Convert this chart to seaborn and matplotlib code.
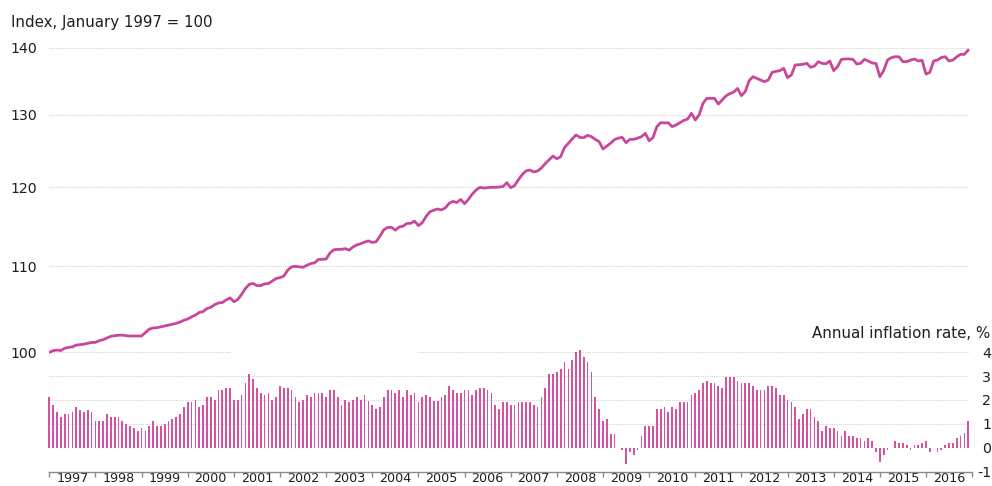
import numpy as np
import pandas as pd
import matplotlib
matplotlib.use('Agg')
import matplotlib.pyplot as plt
import seaborn as sns
from matplotlib.ticker import FixedLocator, NullLocator

# ---------------- data ----------------
years = [str(y) for y in range(1997, 2017)]

index_values = [
    100.0, 100.18, 100.25, 100.2, 100.45, 100.55, 100.6, 100.8, 100.85, 100.9, 101.0, 101.1,
    101.1, 101.3, 101.4, 101.6, 101.78, 101.85, 101.9, 101.92, 101.85, 101.82, 101.82, 101.82,
    101.82, 102.2, 102.6, 102.72, 102.76, 102.85, 102.95, 103.05, 103.14, 103.25, 103.4, 103.6,
    103.75, 104.0, 104.2, 104.5, 104.6, 104.95, 105.1, 105.4, 105.6, 105.65, 105.95, 106.2,
    105.75, 106.0, 106.6, 107.3, 107.8, 107.9, 107.65, 107.65, 107.85, 107.9, 108.2, 108.5,
    108.6, 108.8, 109.5, 109.9, 109.97, 109.9, 109.85, 110.1, 110.3, 110.4, 110.8, 110.82,
    110.85, 111.6, 112.0, 112.05, 112.05, 112.13, 111.95, 112.35, 112.6, 112.75, 112.95, 113.1,
    112.9, 113.0, 113.7, 114.5, 114.8, 114.8, 114.45, 114.85, 114.95, 115.3, 115.32, 115.6,
    115.02, 115.4, 116.2, 116.8, 117.0, 117.16, 117.04, 117.3, 117.9, 118.15, 118.0, 118.4,
    117.85, 118.4, 119.1, 119.65, 120.0, 119.9, 119.95, 120.0, 120.0, 120.04, 120.1, 120.62,
    119.95, 120.22, 121.0, 121.7, 122.2, 122.31, 122.05, 122.18, 122.6, 123.2, 123.7, 124.22,
    123.85, 124.13, 125.4, 125.97, 126.6, 127.14, 126.8, 126.76, 127.09, 126.9, 126.53, 126.2,
    125.19, 125.6, 126.0, 126.5, 126.7, 126.81, 126.06, 126.53, 126.53, 126.7, 126.9, 127.37,
    126.34, 126.76, 128.3, 128.88, 128.85, 128.85, 128.32, 128.55, 128.88, 129.2, 129.4, 130.22,
    129.26, 129.98, 131.67, 132.39, 132.39, 132.39, 131.57, 132.15, 132.75, 133.1, 133.3, 133.85,
    132.79, 133.37, 135.0, 135.6, 135.35, 135.1, 134.85, 135.11, 136.26, 136.4, 136.51, 136.86,
    135.46, 135.85, 137.37, 137.4, 137.47, 137.62, 137.01, 137.2, 137.87, 137.6, 137.56, 137.97,
    136.51, 137.11, 138.2, 138.28, 138.28, 138.23, 137.51, 137.62, 138.23, 137.97, 137.66, 137.6,
    135.6, 136.51, 138.12, 138.48, 138.63, 138.6, 137.87, 137.87, 138.1, 138.28, 137.97, 138.07,
    136.0, 136.26, 137.97, 138.12, 138.5, 138.63, 137.97, 138.12, 138.6, 138.99, 138.99, 139.66,
]

inflation = [
    2.11, 1.79, 1.51, 1.30, 1.40, 1.40, 1.51, 1.69, 1.59, 1.51, 1.59, 1.51,
    1.12, 1.12, 1.12, 1.40, 1.30, 1.30, 1.30, 1.12, 0.99, 0.91, 0.81, 0.70,
    0.81, 0.70, 0.91, 1.12, 0.91, 0.91, 0.99, 1.12, 1.20, 1.30, 1.41, 1.69,
    1.90, 1.90, 1.99, 1.69, 1.80, 2.11, 2.11, 1.99, 2.41, 2.41, 2.50, 2.50,
    1.99, 1.99, 2.21, 2.70, 3.10, 2.88, 2.50, 2.31, 2.21, 2.31, 1.99, 2.11,
    2.60, 2.50, 2.50, 2.41, 2.11, 1.90, 1.99, 2.21, 2.11, 2.31, 2.31, 2.31,
    2.11, 2.41, 2.41, 2.11, 1.80, 1.99, 1.90, 1.99, 2.11, 1.99, 2.21, 1.97,
    1.79, 1.61, 1.69, 2.11, 2.41, 2.41, 2.29, 2.41, 2.11, 2.41, 2.21, 2.29,
    1.90, 2.11, 2.21, 2.11, 1.97, 1.97, 2.11, 2.21, 2.60, 2.41, 2.29, 2.29,
    2.41, 2.41, 2.21, 2.41, 2.50, 2.50, 2.41, 2.29, 1.80, 1.61, 1.90, 1.90,
    1.80, 1.80, 1.90, 1.90, 1.90, 1.90, 1.80, 1.69, 2.11, 2.50, 3.10, 3.10,
    3.19, 3.29, 3.59, 3.29, 3.69, 4.00, 4.10, 3.80, 3.59, 3.19, 2.11, 1.61,
    1.12, 1.20, 0.59, 0.59, 0.0, -0.10, -0.70, -0.20, -0.31, -0.10, 0.50, 0.90,
    0.90, 0.90, 1.61, 1.61, 1.69, 1.51, 1.69, 1.61, 1.90, 1.90, 1.90, 2.21,
    2.29, 2.41, 2.70, 2.80, 2.70, 2.70, 2.60, 2.50, 2.98, 2.98, 2.98, 2.80,
    2.70, 2.70, 2.70, 2.60, 2.41, 2.41, 2.41, 2.60, 2.60, 2.50, 2.21, 2.21,
    1.99, 1.90, 1.69, 1.20, 1.40, 1.61, 1.61, 1.30, 1.12, 0.70, 0.90, 0.81,
    0.81, 0.70, 0.50, 0.70, 0.50, 0.50, 0.39, 0.39, 0.29, 0.39, 0.29, -0.20,
    -0.60, -0.31, -0.10, 0.0, 0.29, 0.20, 0.20, 0.10, -0.10, 0.10, 0.10, 0.20,
    0.29, -0.20, 0.0, -0.20, -0.10, 0.10, 0.20, 0.20, 0.39, 0.50, 0.60, 1.12,
]

left_ticks = [100, 110, 120, 130, 140]
right_ticks = [-1, 0, 1, 2, 3, 4]

# ---------------- style ----------------
sns.set_style('white')
plt.rcParams['font.family'] = ['DejaVu Sans']

LINE = '#c8479b'
BAR = '#d5529f'
GRID = '#d4d4d4'
TEXT = '#1e1e1e'
AXIS = '#8a8a8a'

months = np.arange(len(index_values))
df = pd.DataFrame({'month': months, 'index': index_values, 'inflation': inflation})

fig = plt.figure(figsize=(9.92, 4.86), dpi=100)
FW, FH = 992.0, 486.0
x0_px, x1_px = 49.3, 49.3 + 240 * 3.845
ybot_px, ytop_px = 471.5, 40.0
ax = fig.add_axes([x0_px / FW, 1 - ybot_px / FH, (x1_px - x0_px) / FW, (ybot_px - ytop_px) / FH])

sns.lineplot(data=df, x='month', y='index', ax=ax, color=LINE, linewidth=2.0, zorder=5)
ax.set_yscale('log')
ax.set_ylim(87.66, 141.21)
ax.set_xlim(0, 240)

ax2 = ax.twinx()
sns.barplot(data=df, x='month', y='inflation', ax=ax2, native_scale=True, width=0.45,
            color=BAR, saturation=1, errorbar=None, linewidth=0, clip_on=False)
ax2.set_ylim(-1, 17.1)
ax2.set_xlim(0, 240)

# gridlines
span = x1_px - x0_px
gx = (968 - x0_px) / span
for v in left_ticks[1:]:
    ax.axhline(v, xmin=0, xmax=gx, color=GRID, lw=0.8, ls=(0, (1, 1)), zorder=0)
ax.axhline(100, xmin=0, xmax=(230 - x0_px) / span, color=GRID, lw=0.8, ls=(0, (1, 1)), zorder=0)
for v in [1, 2, 3]:
    ax2.axhline(v, xmin=0, xmax=gx, color=GRID, lw=0.8, ls=(0, (1, 1)), zorder=0)
ax2.axhline(4, xmin=(418 - x0_px) / span, xmax=gx, color=GRID, lw=0.8, ls=(0, (1, 1)), zorder=0)

# x axis
ax.set_xticks(np.arange(0, 241, 12))
ax.set_xticklabels([])
ax.set_xticks(np.arange(6, 240, 12), minor=True)
ax.set_xticklabels(years, minor=True)
ax.tick_params(axis='x', which='major', length=3.6, width=1, color=AXIS, direction='out', bottom=True)
ax.tick_params(axis='x', which='minor', length=0, pad=0.6, labelsize=9.2, labelcolor=TEXT, bottom=True)

# left y axis
ax.yaxis.set_major_locator(FixedLocator(left_ticks))
ax.yaxis.set_minor_locator(NullLocator())
ax.set_yticklabels([str(v) for v in left_ticks])
ax.tick_params(axis='y', which='both', length=0, pad=8.6, labelsize=10.2, labelcolor=TEXT)

# right y axis
ax2.set_yticks(right_ticks)
ax2.set_yticklabels([str(v) for v in right_ticks])
ax2.tick_params(axis='y', length=0, pad=13.6, labelsize=10.2, labelcolor=TEXT)
for t in ax2.get_yticklabels():
    t.set_horizontalalignment('right')

for a in (ax, ax2):
    a.set_xlabel('')
    a.set_ylabel('')
for s in ['top', 'left', 'right']:
    ax.spines[s].set_visible(False)
ax.spines['bottom'].set_color(AXIS)
ax.spines['bottom'].set_linewidth(1)
for s in ax2.spines.values():
    s.set_visible(False)

fig.text(10.7 / FW, 1 - 26.7 / FH, 'Index, January 1997 = 100', fontsize=10.8,
         ha='left', va='baseline', color=TEXT)
fig.text(990 / FW, 1 - 338 / FH, 'Annual inflation rate, %', fontsize=10.8,
         ha='right', va='baseline', color=TEXT)

fig.savefig('out.png', dpi=100)
